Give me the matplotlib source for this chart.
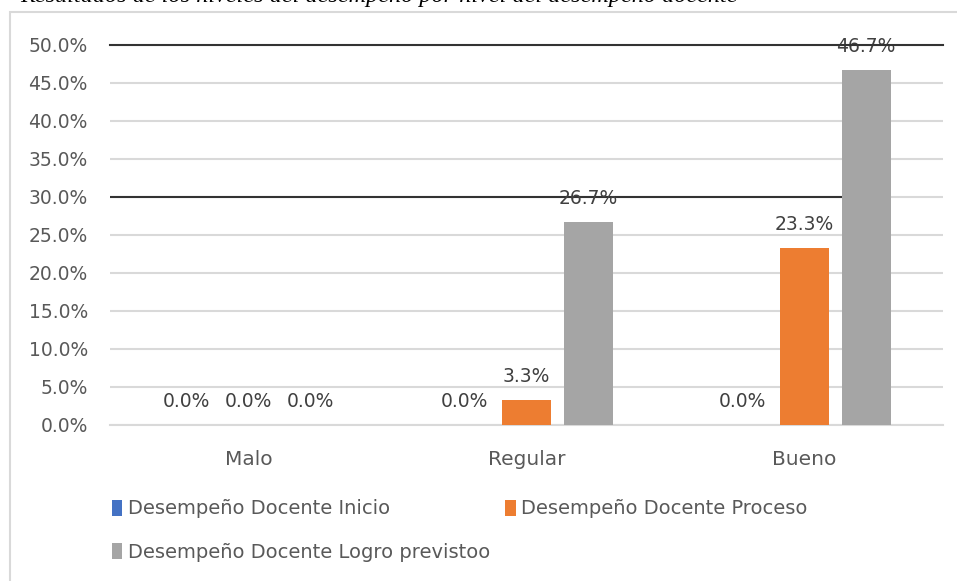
import matplotlib.pyplot as plt
import matplotlib.patches as mpatches
import numpy as np

categorias = ["Malo", "Regular", "Bueno"]
inicio = [0.0, 0.0, 0.0]
proceso = [0.0, 3.3, 23.3]
logro = [0.0, 26.7, 46.7]
series = ["Desempeño Docente Inicio", "Desempeño Docente Proceso",
          "Desempeño Docente Logro previstoo"]
colores = ["#4472C4", "#ED7D31", "#A5A5A5"]
titulo = "Resultados de los niveles del desempeño por nivel del desempeño docente"

plt.rcParams['font.family'] = 'DejaVu Sans'
fig = plt.figure(figsize=(9.57, 5.81), dpi=100)
ax = fig.add_axes([110/957, 1-425/581, 833/957, 380/581])

# marco del grafico
fig.patches.append(mpatches.Rectangle((10/957, -0.1), 1.2, 1.1-12/581, transform=fig.transFigure,
                                      fill=False, edgecolor="#d9d9d9", linewidth=1.5))
# titulo recortado arriba (como en la imagen original)
fig.text(20/957, 1-2/581, titulo, fontsize=17.5, family="Liberation Serif", style="italic",
         va="baseline", ha="left")

x = np.arange(len(categorias))
w = 0.177
d = 0.223
handles = []
for i, (vals, nom, col) in enumerate(zip([inicio, proceso, logro], series, colores)):
    pos = x + (i - 1) * d
    barras = ax.bar(pos, vals, w, color=col, label=nom, zorder=3)
    handles.append(barras)
    for p, v in zip(pos, vals):
        ax.annotate(f"{v:.1f}%", (p, v), xytext=(0, 17), textcoords="offset points",
                    ha="center", va="center", fontsize=13.5, color="#404040", zorder=4)

ax.set_xlim(-0.5, 2.5)
ax.set_ylim(0, 50)
ax.set_yticks(np.arange(0, 51, 5))
ax.set_yticklabels([f"{t:.1f}%" for t in np.arange(0, 51, 5)])
ax.set_xticks(x)
ax.set_xticklabels(categorias)
ax.tick_params(axis="both", length=0, labelsize=13.5, colors="#595959")
ax.tick_params(axis="x", pad=18, labelsize=14.5)
ax.tick_params(axis="y", pad=16)
ax.grid(axis="y", color="#d9d9d9", linewidth=1.5, zorder=0)
for s in ["top", "right", "left"]:
    ax.spines[s].set_visible(False)
ax.spines["bottom"].set_color("#d9d9d9")
ax.spines["bottom"].set_linewidth(1.5)

# lineas oscuras sobre la grafica
ax.axhline(50, color="#333333", linewidth=1.5, zorder=5, clip_on=False)
ax.hlines(30, -0.5, 2 + d - w/2, color="#333333", linewidth=1.5, zorder=2)

orden = [0, 2, 1]
fig.legend([handles[k] for k in orden], [series[k] for k in orden],
           loc="upper left", bbox_to_anchor=(94/957, 1-482/581), ncol=2, frameon=False,
           fontsize=14, handlelength=0.55, handleheight=0.9, handletextpad=0.3,
           labelspacing=1.25, columnspacing=0.75, labelcolor="#595959")

fig.savefig("out.png", dpi=100)
